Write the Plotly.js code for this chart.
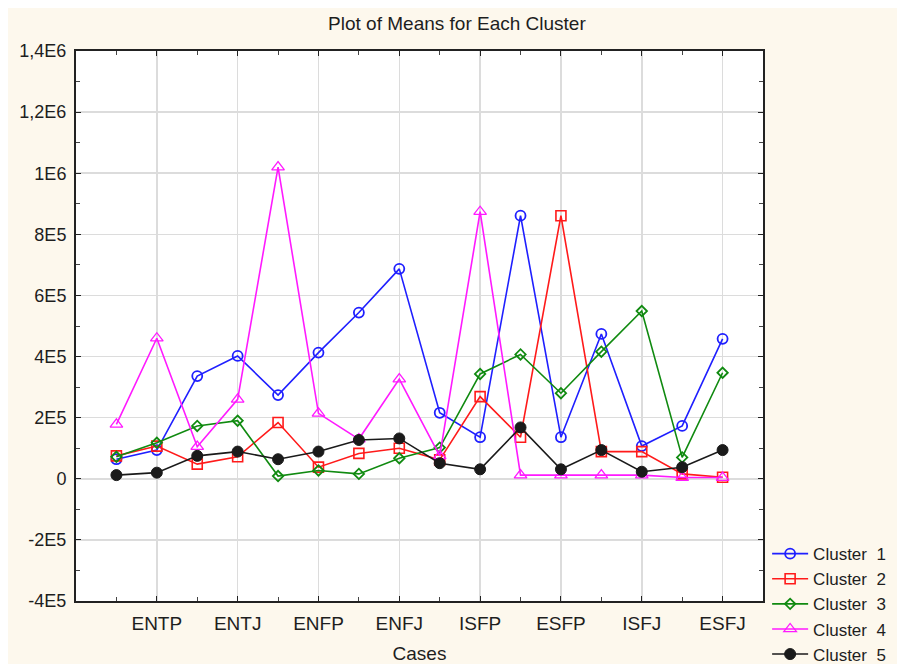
<!DOCTYPE html>
<html>
<head>
<meta charset="utf-8">
<script src="https://cdn.plot.ly/plotly-3.0.1.min.js"></script>
<style>
html,body{margin:0;padding:0;background:#ffffff;width:897px;height:664px;overflow:hidden;}
#chart{position:absolute;left:8px;top:8px;width:889px;height:656px;}
</style>
</head>
<body>
<div id="chart"></div>
<script>
// Categories (16 cases); only every second one is labelled in the original
var categories = ["INTP","ENTP","INTJ","ENTJ","INFP","ENFP","INFJ","ENFJ",
                  "ISTP","ISFP","ESTP","ESFP","ISTJ","ISFJ","ESTJ","ESFJ"];
var labelledCategories = ["ENTP","ENTJ","ENFP","ENFJ","ISFP","ESFP","ISFJ","ESFJ"];

var cluster1 = [64000, 94000, 336000, 402000, 274000, 413000, 544000, 687000,
                216000, 136000, 861000, 136000, 474000, 107000, 173000, 458000];
var cluster2 = [75000, 107000, 48000, 72000, 184000, 38000, 83000, 100000,
                62000, 269000, 136000, 861000, 89000, 89000, 16000, 5000];
var cluster3 = [72000, 118000, 173000, 190000, 9000, 27000, 16000, 67000,
                102000, 343000, 407000, 280000, 416000, 549000, 70000, 347000];
var cluster4 = [178000, 460000, 105000, 260000, 1020000, 214000, 130000, 326000,
                75000, 874000, 12000, 12000, 12000, 12000, 4000, 4000];
var cluster5 = [12000, 20000, 75000, 89000, 64000, 89000, 127000, 132000,
                51000, 31000, 168000, 31000, 94000, 23000, 38000, 94000];

var seriesNames = ["Cluster\u00a0 1","Cluster\u00a0 2","Cluster\u00a0 3","Cluster\u00a0 4","Cluster\u00a0 5"];

var yTickVals = [-400000,-200000,0,200000,400000,600000,800000,1000000,1200000,1400000];
var yTickText = ["-4E5","-2E5","0","2E5","4E5","6E5","8E5","1E6","1,2E6","1,4E6"];

var xIdx = categories.map(function(c,i){return i;});
var xTickVals = labelledCategories.map(function(c){return categories.indexOf(c);});

var styles = [
  {color:"#1f1fff", symbol:"circle-open", size:10, lw:1.6, mw:1.8},
  {color:"#ff1a1a", symbol:"square-open", size:10, lw:1.6, mw:1.6},
  {color:"#108a10", symbol:"diamond-open", size:8, lw:1.6, mw:1.8},
  {color:"#ff1aff", symbol:"triangle-up-open", size:11, lw:1.6, mw:1.3},
  {color:"#1a1a1a", symbol:"circle", size:11, lw:1.6, mw:1}
];
var allSeries = [cluster1, cluster2, cluster3, cluster4, cluster5];

var traces = allSeries.map(function(vals, k){
  var s = styles[k];
  return {
    x: xIdx, y: vals, type:"scatter", mode:"lines+markers", name: seriesNames[k],
    line:{color:s.color, width:s.lw},
    marker:{symbol:s.symbol, size:s.size, color:s.color, line:{color:s.color, width:s.mw}}
  };
});

var fontFam = "Liberation Sans, Arial, sans-serif";
var txt = "#1e1e1e";
var layout = {
  width:889, height:656,
  paper_bgcolor:"#fdf8ed",
  plot_bgcolor:"#ffffff",
  margin:{l:68, r:134, t:43, b:63, pad:0, autoexpand:false},
  font:{family:fontFam, size:19, color:txt},
  title:{text:"Plot of Means for Each Cluster", x:0.505, xanchor:"center", xref:"container",
         y:0.977, yanchor:"middle", yref:"container", font:{family:fontFam, size:19, color:txt}},
  xaxis:{
    range:[-1, 16], tickmode:"array", tickvals:xTickVals, ticktext:labelledCategories,
    showgrid:true, gridcolor:"#dcdcdc", gridwidth:1.5,
    ticks:"inside", ticklen:5, tickcolor:"#222", tickwidth:1,
    showline:true, linecolor:"#222", linewidth:2, mirror:"ticks",
    zeroline:false, ticklabelstandoff:4, automargin:false,
    minor:{tickmode:"array", tickvals:xIdx, ticks:"inside", ticklen:4, tickcolor:"#444", showgrid:false},
    title:{text:"Cases", standoff:15, font:{family:fontFam, size:19, color:txt}},
    tickfont:{family:fontFam, size:19, color:txt}
  },
  yaxis:{
    range:[-400000, 1400000], tickmode:"array", tickvals:yTickVals, ticktext:yTickText,
    showgrid:true, gridcolor:"#dcdcdc", gridwidth:1.5,
    ticks:"inside", ticklen:5, tickcolor:"#222", tickwidth:1,
    showline:true, linecolor:"#222", linewidth:2, mirror:"ticks",
    zeroline:false, ticklabelstandoff:4, automargin:false,
    minor:{dtick:100000, tick0:0, ticks:"inside", ticklen:4, tickcolor:"#444", showgrid:false},
    tickfont:{family:fontFam, size:18, color:txt}
  },
  showlegend:true,
  legend:{x:1.006, xanchor:"left", y:0.118, yanchor:"top", bgcolor:"rgba(0,0,0,0)",
          font:{family:fontFam, size:17, color:txt}, tracegroupgap:0, itemwidth:36}
};

Plotly.newPlot("chart", traces, layout, {displayModeBar:false, staticPlot:true});
</script>
</body>
</html>
